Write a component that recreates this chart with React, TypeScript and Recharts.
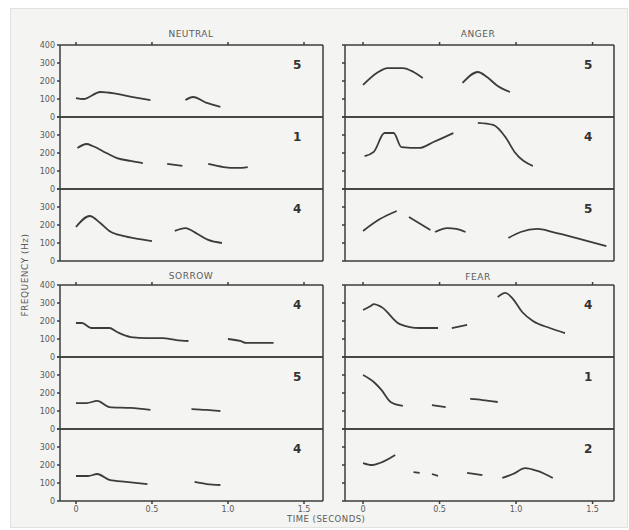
import React from 'react';
import { LineChart, Line, XAxis, YAxis } from 'recharts';

type Seg = [number, number][];

// pitch contours (time in s, frequency in Hz), one array per panel, one sub-array per voiced stretch
const neutralA: Seg[] = [
  [[0, 105], [0.05, 100], [0.16, 139], [0.27, 128], [0.375, 111], [0.49, 94]],
  [[0.72, 94], [0.77, 111], [0.86, 78], [0.95, 56]],
];
const neutralB: Seg[] = [
  [[0.01, 228], [0.07, 250], [0.11, 239], [0.2, 200], [0.27, 172], [0.36, 156], [0.44, 144]],
  [[0.6, 139], [0.7, 128]],
  [[0.87, 139], [0.97, 122], [1.06, 117], [1.13, 122]],
];
const neutralC: Seg[] = [
  [[0, 189], [0.09, 250], [0.16, 211], [0.22, 167], [0.31, 139], [0.42, 122], [0.5, 111]],
  [[0.65, 167], [0.72, 183], [0.8, 150], [0.87, 117], [0.96, 100]],
];
const angerA: Seg[] = [
  [[0, 178], [0.09, 244], [0.16, 272], [0.26, 272], [0.33, 250], [0.39, 217]],
  [[0.65, 189], [0.75, 250], [0.81, 222], [0.88, 172], [0.96, 139]],
];
const angerB: Seg[] = [
  [[0.01, 183], [0.07, 206], [0.14, 311], [0.2, 311], [0.25, 233], [0.37, 228], [0.46, 261], [0.59, 311]],
  [[0.75, 367], [0.85, 356], [0.93, 289], [0.99, 206], [1.11, 128]],
];
const angerC: Seg[] = [
  [[0, 167], [0.11, 233], [0.22, 278]],
  [[0.3, 244], [0.44, 172]],
  [[0.47, 161], [0.55, 183], [0.61, 178], [0.67, 161]],
  [[0.95, 128], [1.03, 161], [1.14, 178], [1.24, 161], [1.42, 122], [1.59, 83]],
];
const sorrowA: Seg[] = [
  [[0, 189], [0.04, 189], [0.1, 161], [0.22, 161], [0.27, 139], [0.36, 111], [0.47, 105], [0.57, 105], [0.66, 94], [0.74, 89]],
  [[1.0, 100], [1.08, 89], [1.12, 78], [1.3, 78]],
];
const sorrowB: Seg[] = [
  [[0, 144], [0.07, 144], [0.14, 156], [0.22, 122], [0.36, 117], [0.49, 106]],
  [[0.76, 111], [0.86, 106], [0.95, 100]],
];
const sorrowC: Seg[] = [
  [[0, 139], [0.08, 139], [0.14, 150], [0.22, 117], [0.33, 106], [0.47, 94]],
  [[0.78, 106], [0.86, 94], [0.95, 89]],
];
const fearA: Seg[] = [
  [[0, 261], [0.05, 283], [0.07, 294], [0.12, 278], [0.24, 183], [0.37, 161], [0.49, 161]],
  [[0.58, 161], [0.68, 178]],
  [[0.88, 333], [0.93, 356], [0.98, 322], [1.04, 250], [1.11, 200], [1.22, 161], [1.32, 133]],
];
const fearB: Seg[] = [
  [[0, 300], [0.07, 261], [0.12, 217], [0.18, 150], [0.26, 128]],
  [[0.45, 133], [0.54, 122]],
  [[0.7, 167], [0.78, 161], [0.88, 150]],
];
const fearC: Seg[] = [
  [[0, 211], [0.06, 200], [0.11, 211], [0.21, 256]],
  [[0.33, 161], [0.37, 156]],
  [[0.45, 150], [0.49, 139]],
  [[0.68, 156], [0.78, 144]],
  [[0.91, 128], [0.98, 150], [1.06, 183], [1.14, 167], [1.24, 128]],
];

const yTicks = [0, 100, 200, 300, 400];
const xTicks = [0, 0.5, 1, 1.5];
const xLabels = ['0', '0.5', '1.0', '1.5'];

const INK = '#3c3c3c';
const TXT = '#5a5a5a';
const FONT = '"DejaVu Sans", sans-serif';

// flatten segments into one series with null breaks between them
const toRows = (segs: Seg[]) => {
  const rows: { t: number; f: number | null }[] = [];
  segs.forEach((s, i) => {
    if (i > 0) rows.push({ t: (segs[i - 1][segs[i - 1].length - 1][0] + s[0][0]) / 2, f: null });
    s.forEach(([t, f]) => rows.push({ t, f }));
  });
  return rows;
};

interface PanelProps {
  x: number; y: number; w: number; h: number;
  segs: Seg[]; tag: string; domain: [number, number];
  labels: boolean; first: boolean; last: boolean; xlab: boolean;
}

const L = 34, R = 8, T = 6;

const Panel: React.FC<PanelProps> = ({ x, y, w, h, segs, tag, domain, labels, first, last, xlab }) => {
  const B = xlab ? 20 : 6;
  return (
    <div style={{ position: 'absolute', left: x - L, top: y - T }}>
      <LineChart width={L + w + R} height={T + h + B} data={toRows(segs)} margin={{ top: 0, right: 0, bottom: 0, left: 0 }}>
        <XAxis dataKey="t" type="number" domain={domain} allowDataOverflow ticks={xTicks}
          height={B} stroke={INK} strokeWidth={1.5} tickSize={last ? 3 : 0}
          tick={xlab ? { fill: TXT, fontSize: 8, fontFamily: FONT } : false}
          tickFormatter={(v: number) => xLabels[xTicks.indexOf(v)] ?? ''} />
        <XAxis xAxisId="top" orientation="top" dataKey="t" type="number" domain={domain} allowDataOverflow
          ticks={xTicks} height={T} stroke={INK} strokeWidth={1.5} tickSize={first ? 3 : 0}
          tickFormatter={() => ''} />
        <YAxis domain={[0, 400]} ticks={yTicks} width={L} stroke={INK} strokeWidth={1.5} tickSize={3}
          tick={{ fill: TXT, fontSize: 8, fontFamily: FONT }}
          tickFormatter={(v: number) => (!labels || (v === 400 && !first) ? '' : String(v))} />
        <YAxis yAxisId="r" orientation="right" domain={[0, 400]} ticks={yTicks} width={R} stroke={INK}
          strokeWidth={1.5} tickSize={3} tickFormatter={() => ''} />
        <Line dataKey="f" stroke={INK} strokeWidth={1.8} dot={false} type="monotone"
          connectNulls={false} isAnimationActive={false} />
      </LineChart>
      <span style={{ position: 'absolute', left: L + w - 30, top: T + 13, fontFamily: FONT,
        fontWeight: 'bold', fontSize: 12, color: '#333' }}>{tag}</span>
    </div>
  );
};

const title = (text: string, cx: number, top: number) => (
  <div style={{ position: 'absolute', left: cx - 50, width: 100, top, textAlign: 'center',
    fontFamily: FONT, fontSize: 9, color: TXT, letterSpacing: 0.5 }}>{text}</div>
);

const App: React.FC = () => {
  const lx = 60, lw = 263, rx = 345, rw = 269, h = 72;
  const ld: [number, number] = [-0.105, 1.625];
  const rd: [number, number] = [-0.118, 1.64];
  const top1 = 45, top2 = 285;
  const groups = [
    { x: lx, w: lw, d: ld, y: top1, panels: [neutralA, neutralB, neutralC], tags: ['5', '1', '4'], labels: true, xlab: false },
    { x: rx, w: rw, d: rd, y: top1, panels: [angerA, angerB, angerC], tags: ['5', '4', '5'], labels: false, xlab: false },
    { x: lx, w: lw, d: ld, y: top2, panels: [sorrowA, sorrowB, sorrowC], tags: ['4', '5', '4'], labels: true, xlab: true },
    { x: rx, w: rw, d: rd, y: top2, panels: [fearA, fearB, fearC], tags: ['4', '1', '2'], labels: false, xlab: true },
  ];
  return (
    <div style={{ position: 'absolute', left: 0, top: 0, width: 629, height: 530, background: '#fff', overflow: 'hidden' }}>
      <div style={{ position: 'absolute', left: 10, top: 8, width: 616, height: 518, background: '#f4f4f2',
        border: '1px solid #e2e2e0' }} />
      {title('NEUTRAL', 191, 29)}
      {title('ANGER', 478, 29)}
      {title('SORROW', 191, 271)}
      {title('FEAR', 478, 272)}
      {groups.map((g, gi) =>
        g.panels.map((segs, i) => (
          <Panel key={`${gi}-${i}`} x={g.x} y={g.y + i * h} w={g.w} h={h} segs={segs} tag={g.tags[i]}
            domain={g.d} labels={g.labels} first={i === 0} last={i === 2} xlab={g.xlab && i === 2} />
        ))
      )}
      <div style={{ position: 'absolute', left: 25, top: 275, transform: 'translate(-50%, -50%) rotate(-90deg)',
        whiteSpace: 'nowrap', fontFamily: FONT, fontSize: 9, color: TXT, letterSpacing: 0.5 }}>FREQUENCY (Hz)</div>
      <div style={{ position: 'absolute', left: 287, top: 514, whiteSpace: 'nowrap', fontFamily: FONT,
        fontSize: 8.5, color: TXT, letterSpacing: 0.5 }}>TIME (SECONDS)</div>
    </div>
  );
};

export default App;
